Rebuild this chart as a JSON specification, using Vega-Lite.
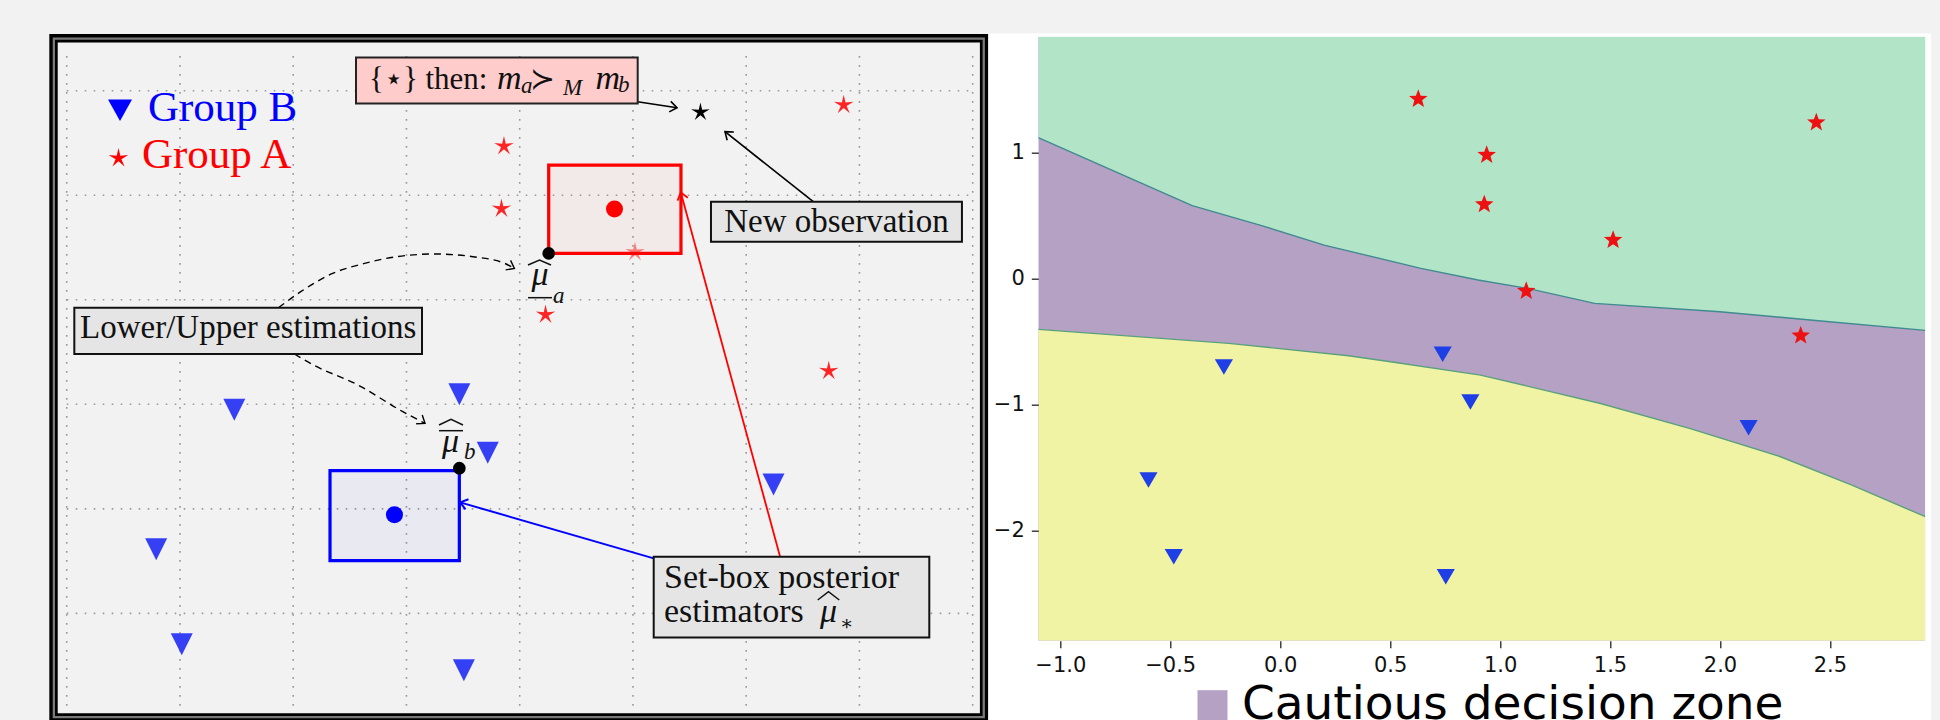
{
  "$schema": "https://vega.github.io/schema/vega-lite/v6.json",
  "background": "#f2f2f2",
  "padding": {"left": 48.3, "top": 31.7, "right": 10, "bottom": 0},
  "autosize": {"type": "pad"},
  "bounds": "flush",
  "spacing": 50,
  "config": {
    "view": {"stroke": null},
    "axis": {"labelFont": "DejaVu Sans", "labelFontSize": 21, "labelColor": "#111111", "tickColor": "#222222", "tickWidth": 1.3, "tickSize": 7, "labelPadding": 7, "domain": false, "grid": false}
  },
  "datasets": {
    "gridV": [{"x":0,"y":-0.8829,"y2":5.3472},{"x":1,"y":-0.8829,"y2":5.3472},{"x":2,"y":-0.8829,"y2":5.3472},{"x":3,"y":-0.8829,"y2":5.3472},{"x":4,"y":-0.8829,"y2":5.3472},{"x":5,"y":-0.8829,"y2":5.3472},{"x":6,"y":-0.8829,"y2":5.3472},{"x":7,"y":-0.8829,"y2":5.3472},{"x":8,"y":-0.8829,"y2":5.3472}],
    "gridH": [{"y":0,"x":0,"x2":8},{"y":1,"x":0,"x2":8},{"y":2,"x":0,"x2":8},{"y":3,"x":0,"x2":8},{"y":4,"x":0,"x2":8},{"y":5,"x":0,"x2":8}],
    "frame": [{"x":-0.11656,"x2":8.10066,"y":-0.9958,"y2":5.5022}],
    "frameGray": [{"x":-0.11347,"x2":8.09757,"y":-0.9925,"y2":5.4988}],
    "boxPink": [{"x":2.5545,"x2":5.0419,"y":4.8785,"y2":5.3185}],
    "boxGray": [{"x":5.689,"x2":7.905,"y":3.556,"y2":3.938},{"x":0.0671,"x2":3.1373,"y":2.4813,"y2":2.9243},{"x":5.1832,"x2":7.6168,"y":-0.2296,"y2":0.5424}],
    "redBox": [{"x":4.256,"x2":5.424,"y":3.444,"y2":4.289}],
    "blueBox": [{"x":2.325,"x2":3.467,"y":0.504,"y2":1.365}],
    "starsA": [{"x":3.861,"y":4.469},{"x":3.839,"y":3.871},{"x":6.861,"y":4.863},{"x":4.228,"y":2.857},{"x":6.729,"y":2.319}],
    "starsAfaint": [{"x":5.018,"y":3.456}],
    "trianglesB": [{"x":1.48,"y":1.949},{"x":3.467,"y":2.097},{"x":3.718,"y":1.537},{"x":6.241,"y":1.234},{"x":0.79,"y":0.614},{"x":1.016,"y":-0.295},{"x":3.507,"y":-0.543}],
    "blackStar": [{"x":5.596,"y":4.794}],
    "redDot": [{"x":4.837,"y":3.868}],
    "blueDot": [{"x":2.894,"y":0.944}],
    "blackDots": [{"x":4.256,"y":3.444},{"x":3.467,"y":1.389}],
    "legendTri": [{"x":0.4706,"y":4.8135}],
    "legendStar": [{"x":0.4574,"y":4.3543}],
    "legendTextB": [{"x":0.7179,"y":4.713,"t":"Group B"}],
    "legendTextA": [{"x":0.6649,"y":4.2635,"t":"Group A"}],
    "textCenter": [{"x":6.797,"y":3.651,"t":"New observation"},{"x":1.6026,"y":2.6373,"t":"Lower/Upper estimations"}],
    "textLeft": [{"x":5.274,"y":0.2391,"t":"Set-box posterior"},{"x":5.274,"y":-0.0794,"t":"estimators"}],
    "textThen": [{"x":2.6693,"y":5.0163,"t":"{⋆} then:"}],
    "mathMain": [{"x":4.1793,"y":3.1443,"t":"μ"},{"x":3.389,"y":1.5468,"t":"μ"},{"x":6.7267,"y":-0.0794,"t":"μ"},{"x":3.9082,"y":5.0163,"t":"m"},{"x":4.777,"y":5.0163,"t":"m"}],
    "mathSub": [{"x":4.294,"y":2.9721,"t":"a"},{"x":3.5081,"y":1.4798,"t":"b"},{"x":4.011,"y":4.9809,"t":"a"},{"x":4.3823,"y":4.9617,"t":"M"},{"x":4.868,"y":4.9904,"t":"b"}],
    "mathRel": [{"x":4.2013,"y":5.0163,"t":"≻"}],
    "mathStar": [{"x":6.8283,"y":-0.1607,"t":"∗"}],
    "arrowsBlack": [{"id":"top","x":5.0402,"y":4.8948},{"id":"top","x":5.389,"y":4.8374},{"id":"new","x":6.5921,"y":3.9382},{"id":"new","x":5.8128,"y":4.6078}],
    "arrowsDashed": [{"id":"d1","x":1.8693,"y":2.9242},{"id":"d1","x":2.0662,"y":3.0773},{"id":"d1","x":2.3479,"y":3.2523},{"id":"d1","x":2.6296,"y":3.348},{"id":"d1","x":2.9113,"y":3.4121},{"id":"d1","x":3.2494,"y":3.4379},{"id":"d1","x":3.5876,"y":3.4121},{"id":"d1","x":3.8684,"y":3.348},{"id":"d1","x":3.9532,"y":3.3002},{"id":"d2","x":2.0106,"y":2.4813},{"id":"d2","x":2.1792,"y":2.3761},{"id":"d2","x":2.5722,"y":2.1848},{"id":"d2","x":2.9678,"y":1.9294},{"id":"d2","x":3.1638,"y":1.8175}],
    "arrowBlue": [{"x":5.1832,"y":0.5261},{"x":3.4746,"y":1.0618}],
    "arrowRed": [{"x":6.3011,"y":0.5357},{"x":5.4225,"y":4.0272}],
    "hats": [{"id":"ha","x":4.0733,"y":3.3327},{"id":"ha","x":4.1748,"y":3.3805},{"id":"ha","x":4.2763,"y":3.3327},{"id":"ua","x":4.0733,"y":3.0199},{"id":"ua","x":4.2852,"y":3.0199},{"id":"hb","x":3.2874,"y":1.8022},{"id":"hb","x":3.3934,"y":1.8558},{"id":"hb","x":3.4993,"y":1.8022},{"id":"ob","x":3.2874,"y":1.7477},{"id":"ob","x":3.4993,"y":1.7477},{"id":"hs","x":6.6313,"y":0.1282},{"id":"hs","x":6.7267,"y":0.2076},{"id":"hs","x":6.8221,"y":0.1282}],
    "heads": [{"id":"top","x":5.389,"y":4.8374},{"id":"new","x":5.8128,"y":4.6078},{"id":"d1","x":3.9532,"y":3.3002},{"id":"d2","x":3.1638,"y":1.8175},{"id":"blue","x":3.4746,"y":1.0618},{"id":"red","x":5.4225,"y":4.0272}],
    "whiteBg": [{"x":-1.3274,"x2":2.9595,"y":-3.516,"y2":1.9468}],
    "zoneRect": [{"x":-1.1,"x2":2.9336,"y":-2.873,"y2":1.921,"zone":"Cautious decision zone"}],
    "upperB": [{"x":-1.1,"y":1.12},{"x":-0.75,"y":0.85},{"x":-0.4,"y":0.58},{"x":-0.1,"y":0.43},{"x":0.2,"y":0.267},{"x":0.64,"y":0.082},{"x":0.9,"y":-0.01},{"x":1.12,"y":-0.075},{"x":1.43,"y":-0.196},{"x":2.0,"y":-0.262},{"x":2.46,"y":-0.335},{"x":2.9336,"y":-0.41}],
    "lowerB": [{"x":-1.1,"y":-0.402},{"x":-0.234,"y":-0.513},{"x":0.311,"y":-0.611},{"x":0.502,"y":-0.659},{"x":0.911,"y":-0.765},{"x":1.457,"y":-0.99},{"x":1.865,"y":-1.19},{"x":2.275,"y":-1.413},{"x":2.6,"y":-1.638},{"x":2.9336,"y":-1.889}],
    "starsR": [{"x":0.628,"y":1.426},{"x":2.438,"y":1.24},{"x":0.939,"y":0.982},{"x":0.928,"y":0.59},{"x":1.514,"y":0.307},{"x":1.119,"y":-0.098},{"x":2.367,"y":-0.452}],
    "trisR": [{"x":0.739,"y":-0.6},{"x":-0.256,"y":-0.7},{"x":0.865,"y":-0.978},{"x":2.13,"y":-1.183},{"x":-0.599,"y":-1.598},{"x":-0.484,"y":-2.206},{"x":0.753,"y":-2.365}]
  },
  "hconcat": [
    {
      "width": 939,
      "height": 685,
      "view": {"stroke": null},
      "encoding": {
        "x": {"field": "x", "type": "quantitative", "scale": {"domain": [-0.15364, 8.13775], "nice": false, "zero": false}, "axis": null},
        "y": {"field": "y", "type": "quantitative", "scale": {"domain": [-1.03597, 5.51655], "nice": false, "zero": false}, "axis": null}
      },
      "layer": [
        {"data": {"name": "gridV"}, "mark": {"type": "rule", "color": "#9a9a9a", "strokeWidth": 1.6, "strokeDash": [1.6, 7.4]}, "encoding": {"y2": {"field": "y2"}}},
        {"data": {"name": "gridH"}, "mark": {"type": "rule", "color": "#9a9a9a", "strokeWidth": 1.6, "strokeDash": [1.6, 7.4]}, "encoding": {"x2": {"field": "x2"}}},
        {"data": {"name": "frame"}, "mark": {"type": "rect", "filled": false, "color": "#000000", "strokeWidth": 8.4}, "encoding": {"x2": {"field": "x2"}, "y2": {"field": "y2"}}},
        {"data": {"name": "frameGray"}, "mark": {"type": "rect", "filled": false, "color": "#7a7a7a", "strokeWidth": 2.3}, "encoding": {"x2": {"field": "x2"}, "y2": {"field": "y2"}}},
        {"data": {"name": "starsA"}, "mark": {"type": "point", "shape": "M0,-1L0.1763,-0.2427L0.9511,-0.309L0.2853,0.0927L0.5878,0.809L0,0.3L-0.5878,0.809L-0.2853,0.0927L-0.9511,-0.309L-0.1763,-0.2427Z", "filled": true, "size": 420, "color": "#ff2424", "opacity": 1, "strokeWidth": 0}},
        {"data": {"name": "starsAfaint"}, "mark": {"type": "point", "shape": "M0,-1L0.1763,-0.2427L0.9511,-0.309L0.2853,0.0927L0.5878,0.809L0,0.3L-0.5878,0.809L-0.2853,0.0927L-0.9511,-0.309L-0.1763,-0.2427Z", "filled": true, "size": 420, "color": "#ff2424", "opacity": 0.55, "strokeWidth": 0}},
        {"data": {"name": "redBox"}, "mark": {"type": "rect", "fill": "#ff0000", "fillOpacity": 0.035, "stroke": "#ff0000", "strokeWidth": 3.2}, "encoding": {"x2": {"field": "x2"}, "y2": {"field": "y2"}}},
        {"data": {"name": "blueBox"}, "mark": {"type": "rect", "fill": "#0000ff", "fillOpacity": 0.035, "stroke": "#0000ff", "strokeWidth": 3.2}, "encoding": {"x2": {"field": "x2"}, "y2": {"field": "y2"}}},
        {"data": {"name": "trianglesB"}, "mark": {"type": "point", "shape": "M-1,-1L1,-1L0,1Z", "filled": true, "size": 484, "color": "#3540f5", "opacity": 1, "strokeWidth": 0}},
        {"data": {"name": "redDot"}, "mark": {"type": "circle", "size": 290, "color": "#ff0000", "opacity": 1}},
        {"data": {"name": "blueDot"}, "mark": {"type": "circle", "size": 290, "color": "#0000ff", "opacity": 1}},
        {"data": {"name": "blackDots"}, "mark": {"type": "circle", "size": 160, "color": "#000000", "opacity": 1}},
        {"data": {"name": "blackStar"}, "mark": {"type": "point", "shape": "M0,-1L0.1763,-0.2427L0.9511,-0.309L0.2853,0.0927L0.5878,0.809L0,0.3L-0.5878,0.809L-0.2853,0.0927L-0.9511,-0.309L-0.1763,-0.2427Z", "filled": true, "size": 380, "color": "#000000", "opacity": 1, "strokeWidth": 0}},
        {"data": {"name": "legendTri"}, "mark": {"type": "point", "shape": "M-1,-0.9L1,-0.9L0,0.9Z", "filled": true, "size": 576, "color": "#0000ff", "opacity": 1, "strokeWidth": 0}},
        {"data": {"name": "legendStar"}, "mark": {"type": "point", "shape": "M0,-1L0.1763,-0.2427L0.9511,-0.309L0.2853,0.0927L0.5878,0.809L0,0.3L-0.5878,0.809L-0.2853,0.0927L-0.9511,-0.309L-0.1763,-0.2427Z", "filled": true, "size": 420, "color": "#ff0000", "opacity": 1, "strokeWidth": 0}},
        {"data": {"name": "arrowsBlack"}, "mark": {"type": "line", "color": "#000000", "strokeWidth": 1.6}, "encoding": {"detail": {"field": "id"}}},
        {"data": {"name": "arrowsDashed"}, "mark": {"type": "line", "color": "#000000", "strokeWidth": 1.4, "strokeDash": [7, 5], "interpolate": "monotone"}, "encoding": {"detail": {"field": "id"}}},
        {"data": {"name": "arrowBlue"}, "mark": {"type": "line", "color": "#0000ff", "strokeWidth": 2}, "encoding": {}},
        {"data": {"name": "arrowRed"}, "mark": {"type": "line", "color": "#ff0000", "strokeWidth": 1.8}, "encoding": {}},
        {"data": {"name": "heads"}, "transform": [{"filter": "datum.id == 'top'"}], "mark": {"type": "point", "shape": "M-1,-0.75L0,0L-1,0.75", "filled": false, "size": 200, "color": "#000000", "strokeWidth": 1.6, "opacity": 1, "angle": 8.6}},
        {"data": {"name": "heads"}, "transform": [{"filter": "datum.id == 'new'"}], "mark": {"type": "point", "shape": "M-1,-0.75L0,0L-1,0.75", "filled": false, "size": 200, "color": "#000000", "strokeWidth": 1.6, "opacity": 1, "angle": 219.1}},
        {"data": {"name": "heads"}, "transform": [{"filter": "datum.id == 'd1'"}], "mark": {"type": "point", "shape": "M-1,-0.75L0,0L-1,0.75", "filled": false, "size": 200, "color": "#000000", "strokeWidth": 1.4, "opacity": 1, "angle": 27.5}},
        {"data": {"name": "heads"}, "transform": [{"filter": "datum.id == 'd2'"}], "mark": {"type": "point", "shape": "M-1,-0.75L0,0L-1,0.75", "filled": false, "size": 200, "color": "#000000", "strokeWidth": 1.4, "opacity": 1, "angle": 35}},
        {"data": {"name": "heads"}, "transform": [{"filter": "datum.id == 'blue'"}], "mark": {"type": "point", "shape": "M-1,-0.75L0,0L-1,0.75", "filled": false, "size": 200, "color": "#0000ff", "strokeWidth": 2, "opacity": 1, "angle": 196.1}},
        {"data": {"name": "heads"}, "transform": [{"filter": "datum.id == 'red'"}], "mark": {"type": "point", "shape": "M-1,-0.75L0,0L-1,0.75", "filled": false, "size": 200, "color": "#ff0000", "strokeWidth": 1.8, "opacity": 1, "angle": 254.75}},
        {"data": {"name": "boxPink"}, "mark": {"type": "rect", "fill": "#ffcccc", "stroke": "#222222", "strokeWidth": 2}, "encoding": {"x2": {"field": "x2"}, "y2": {"field": "y2"}}},
        {"data": {"name": "boxGray"}, "mark": {"type": "rect", "fill": "#e5e5e5", "stroke": "#111111", "strokeWidth": 2}, "encoding": {"x2": {"field": "x2"}, "y2": {"field": "y2"}}},
        {"data": {"name": "legendTextB"}, "mark": {"type": "text", "font": "Liberation Serif", "fontSize": 43, "align": "left", "baseline": "alphabetic", "color": "#0000ff"}, "encoding": {"text": {"field": "t"}}},
        {"data": {"name": "legendTextA"}, "mark": {"type": "text", "font": "Liberation Serif", "fontSize": 43, "align": "left", "baseline": "alphabetic", "color": "#ff0000"}, "encoding": {"text": {"field": "t"}}},
        {"data": {"name": "textCenter"}, "mark": {"type": "text", "font": "Liberation Serif", "fontSize": 33, "align": "center", "baseline": "alphabetic", "color": "#111111"}, "encoding": {"text": {"field": "t"}}},
        {"data": {"name": "textLeft"}, "mark": {"type": "text", "font": "Liberation Serif", "fontSize": 34, "align": "left", "baseline": "alphabetic", "color": "#111111"}, "encoding": {"text": {"field": "t"}}},
        {"data": {"name": "textThen"}, "mark": {"type": "text", "font": "Liberation Serif", "fontSize": 31, "align": "left", "baseline": "alphabetic", "color": "#111111"}, "encoding": {"text": {"field": "t"}}},
        {"data": {"name": "mathMain"}, "mark": {"type": "text", "font": "Liberation Serif", "fontSize": 34, "fontStyle": "italic", "align": "center", "baseline": "alphabetic", "color": "#111111"}, "encoding": {"text": {"field": "t"}}},
        {"data": {"name": "mathSub"}, "mark": {"type": "text", "font": "Liberation Serif", "fontSize": 23, "fontStyle": "italic", "align": "left", "baseline": "alphabetic", "color": "#111111"}, "encoding": {"text": {"field": "t"}}},
        {"data": {"name": "mathRel"}, "mark": {"type": "text", "font": "DejaVu Serif", "fontSize": 30, "align": "center", "baseline": "alphabetic", "color": "#111111"}, "encoding": {"text": {"field": "t"}}},
        {"data": {"name": "mathStar"}, "mark": {"type": "text", "font": "DejaVu Serif", "fontSize": 20, "align": "left", "baseline": "alphabetic", "color": "#111111"}, "encoding": {"text": {"field": "t"}}},
        {"data": {"name": "hats"}, "mark": {"type": "line", "color": "#111111", "strokeWidth": 1.5}, "encoding": {"detail": {"field": "id"}}}
      ]
    },
    {
      "width": 887,
      "height": 604,
      "view": {"stroke": "#222222", "strokeWidth": 1.6},
      "encoding": {
        "x": {"field": "x", "type": "quantitative", "scale": {"domain": [-1.1, 2.9336], "nice": false, "zero": false}, "axis": {"title": null, "values": [-1, -0.5, 0, 0.5, 1, 1.5, 2, 2.5], "format": ".1f", "zindex": 1}},
        "y": {"field": "y", "type": "quantitative", "scale": {"domain": [-2.873, 1.921], "nice": false, "zero": false}, "axis": {"title": null, "values": [-2, -1, 0, 1], "format": "d", "zindex": 1}}
      },
      "layer": [
        {"data": {"name": "whiteBg"}, "mark": {"type": "rect", "color": "#ffffff", "clip": false}, "encoding": {"x2": {"field": "x2"}, "y2": {"field": "y2"}}},
        {"data": {"name": "zoneRect"}, "mark": {"type": "rect", "clip": true}, "encoding": {"x2": {"field": "x2"}, "y2": {"field": "y2"}, "color": {"field": "zone", "type": "nominal", "scale": {"range": ["#b4a1c4"]}, "legend": {"title": null, "orient": "none", "legendX": 150.7, "legendY": 645, "padding": 0, "labelFont": "DejaVu Sans", "labelFontSize": 47, "labelColor": "#000000", "labelOffset": 6, "labelLimit": 1200, "symbolType": "square", "symbolSize": 900, "symbolStrokeWidth": 0, "symbolOpacity": 1}}}},
        {"data": {"name": "upperB"}, "mark": {"type": "area", "color": "#b2e4c8", "opacity": 1, "clip": true}, "encoding": {"y2": {"datum": 1.921}}},
        {"data": {"name": "lowerB"}, "mark": {"type": "area", "color": "#f0f3a4", "opacity": 1, "clip": true}, "encoding": {"y2": {"datum": -2.873}}},
        {"data": {"name": "upperB"}, "mark": {"type": "line", "color": "#408a90", "strokeWidth": 1.4, "clip": true}, "encoding": {}},
        {"data": {"name": "lowerB"}, "mark": {"type": "line", "color": "#5aa07e", "strokeWidth": 1.4, "clip": true}, "encoding": {}},
        {"data": {"name": "starsR"}, "mark": {"type": "point", "shape": "M0,-1L0.247,-0.3398L0.9511,-0.309L0.3994,0.1298L0.5878,0.809L0,0.42L-0.5878,0.809L-0.3994,0.1298L-0.9511,-0.309L-0.247,-0.3398Z", "filled": true, "size": 380, "color": "#ee1111", "opacity": 1, "strokeWidth": 0}},
        {"data": {"name": "trisR"}, "mark": {"type": "point", "shape": "M-1,-0.85L1,-0.85L0,0.85Z", "filled": true, "size": 330, "color": "#1f3fe6", "opacity": 1, "strokeWidth": 0}}
      ]
    }
  ],
  "resolve": {"scale": {"color": "independent"}, "legend": {"color": "independent"}}
}
